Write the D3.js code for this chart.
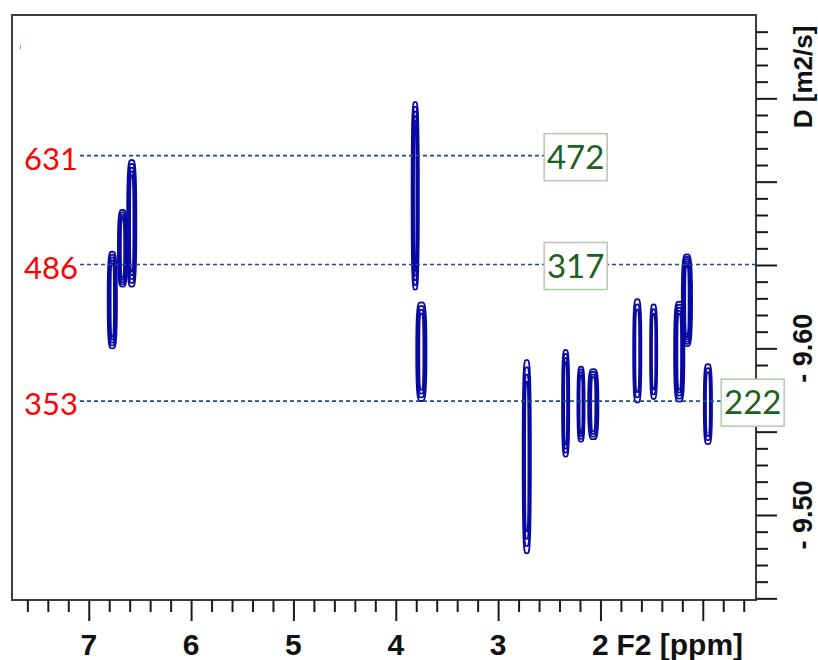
<!DOCTYPE html>
<html>
<head>
<meta charset="utf-8">
<script src="https://cdn.jsdelivr.net/npm/d3@7"></script>
<style>
  body { margin: 0; background: #fff; }
  svg { display: block; }
</style>
</head>
<body>
<svg id="chart" width="818" height="660"></svg>
<script>
// peaks: chemical shift (ppm), log D centre, half span in log D, half width in ppm, contour levels
var peakPpm    = [6.77, 6.67, 6.58, 3.81, 3.75, 2.72, 2.34, 2.19, 2.07, 1.64, 1.48, 1.23, 1.155, 0.95];
var peakLogD   = [-9.629, -9.660, -9.675, -9.6915, -9.598, -9.535, -9.567, -9.5665, -9.5665, -9.5985, -9.598, -9.598, -9.6288, -9.5665];
var peakHalfD  = [0.029, 0.023, 0.038, 0.0563, 0.0296, 0.058, 0.032, 0.0225, 0.021, 0.031, 0.0284, 0.030, 0.0275, 0.024];
var peakHalfW  = [0.045, 0.045, 0.045, 0.035, 0.05, 0.04, 0.035, 0.035, 0.05, 0.04, 0.035, 0.05, 0.05, 0.04];
var peakLevels = [5, 5, 5, 6, 4, 4, 4, 4, 4, 3, 3, 5, 6, 3];

// dashed reference lines (log D) with their annotations
var refLogD   = [-9.7156, -9.6503, -9.5683];
var refLeft   = ["631", "486", "353"];
var refRight  = ["472", "317", "222"];
var refBoxPpm = [2.55, 2.55, 0.82];   // where the green box starts
var refLineEnd = [2.55, 0.48, 0.48];

// axis ticks
var xMajor = [7, 6, 5, 4, 3, 2, 1];
var xLabels = [7, 6, 5, 4, 3, 2];
var yLabels = [-9.60, -9.50];

var svg = d3.select("#chart");
var blue = "#0a0aa0";

var x = d3.scaleLinear().domain([7.75, 0.48]).range([12, 756]);
var y = d3.scaleLinear().domain([-9.80, -9.449]).range([15, 600]);

// frame
svg.append("rect")
  .attr("x", 12).attr("y", 15)
  .attr("width", 744).attr("height", 585)
  .attr("fill", "none")
  .attr("stroke", "#3c3c3c")
  .attr("stroke-width", 2);

// tiny red mark top left
svg.append("line")
  .attr("x1", 20.5).attr("x2", 20.5).attr("y1", 45).attr("y2", 49)
  .attr("stroke", "#f07070").attr("stroke-width", 1);

// bottom axis ticks
var xMinor = d3.range(38, 2, -1).filter(function(k) { return k % 5 !== 0; }).map(function(k) { return k / 5; });

function styleAxis(g) {
  g.select(".domain").remove();
  g.selectAll("line").attr("stroke", "#1a1a1a").attr("stroke-width", 2);
}

svg.append("g")
  .attr("transform", "translate(0,600)")
  .call(d3.axisBottom(x).tickValues(xMinor).tickSize(12).tickFormat(""))
  .call(styleAxis);
svg.append("g")
  .attr("transform", "translate(0,600)")
  .call(d3.axisBottom(x).tickValues(xMajor).tickSize(21).tickFormat(""))
  .call(styleAxis);

svg.selectAll(".xlab")
  .data(xLabels)
  .enter().append("text")
  .attr("class", "xlab")
  .attr("x", function(d) { return x(d); })
  .attr("y", 655)
  .attr("text-anchor", "middle")
  .style("font-family", "'Liberation Sans', Arial, sans-serif")
  .style("font-weight", "bold")
  .style("font-size", "30px")
  .attr("fill", "#111")
  .text(function(d) { return d; });

svg.append("text")
  .attr("x", x(2) + 16)
  .attr("y", 655)
  .style("font-family", "'Liberation Sans', Arial, sans-serif")
  .style("font-weight", "bold")
  .style("font-size", "30px")
  .attr("fill", "#111")
  .text("F2 [ppm]");

// right axis ticks
var yMinor = d3.range(979, 944, -1).filter(function(k) { return k % 5 !== 0; }).map(function(k) { return -k / 100; });
var yMajor = d3.range(975, 944, -5).map(function(k) { return -k / 100; });

svg.append("g")
  .attr("transform", "translate(756,0)")
  .call(d3.axisRight(y).tickValues(yMinor).tickSize(12).tickFormat(""))
  .call(styleAxis);
svg.append("g")
  .attr("transform", "translate(756,0)")
  .call(d3.axisRight(y).tickValues(yMajor).tickSize(21).tickFormat(""))
  .call(styleAxis);

svg.selectAll(".ylab")
  .data(yLabels)
  .enter().append("text")
  .attr("class", "ylab")
  .attr("transform", function(d) { return "translate(812," + y(d) + ") rotate(-90)"; })
  .attr("text-anchor", "middle")
  .style("font-family", "'Liberation Sans', Arial, sans-serif")
  .style("font-weight", "bold")
  .style("font-size", "27px")
  .attr("fill", "#111")
  .text(function(d) { return "- " + d3.format(".2f")(-d); });

svg.append("text")
  .attr("transform", "translate(812,77) rotate(-90)")
  .attr("text-anchor", "middle")
  .style("font-family", "'Liberation Sans', Arial, sans-serif")
  .style("font-weight", "bold")
  .style("font-size", "26px")
  .attr("fill", "#111")
  .text("D [m2/s]");

// peaks as nested contour outlines
var contour = d3.line().curve(d3.curveLinearClosed);
function blob(cx, cy, rx, ry) {
  var pts = [];
  for (var i = 0; i < 60; i++) {
    var t = i / 60 * 2 * Math.PI;
    var c = Math.cos(t), s = Math.sin(t);
    pts.push([cx + rx * Math.sign(c) * Math.pow(Math.abs(c), 0.45),
              cy + ry * Math.sign(s) * Math.pow(Math.abs(s), 0.8)]);
  }
  return contour(pts);
}

var peaks = peakPpm.map(function(p, i) {
  return { ppm: p, logD: peakLogD[i], hd: peakHalfD[i], hw: peakHalfW[i], n: peakLevels[i] };
});

var pg = svg.append("g");
peaks.forEach(function(d) {
  var cx = x(d.ppm), cy = y(d.logD);
  var rx = Math.abs(x(d.ppm + d.hw) - cx);
  var ry = Math.abs(y(d.logD + d.hd) - cy);
  for (var k = 0; k < d.n; k++) {
    var f = k / d.n;
    pg.append("path")
      .attr("d", blob(cx, cy, Math.max(0.5, rx * (1 - 0.8 * f)), ry * (1 - 0.3 * f)))
      .attr("fill", "none")
      .attr("stroke", blue)
      .attr("stroke-width", 1.8);
  }
});

// dashed lines, red and green annotations
var refs = refLogD.map(function(v, i) {
  return { v: v, left: refLeft[i], right: refRight[i], box: refBoxPpm[i], end: refLineEnd[i] };
});

svg.selectAll(".ref")
  .data(refs)
  .enter().append("line")
  .attr("class", "ref")
  .attr("x1", 80)
  .attr("x2", function(d) { return x(d.end); })
  .attr("y1", function(d) { return y(d.v); })
  .attr("y2", function(d) { return y(d.v); })
  .attr("stroke", "#1f4a8c")
  .attr("stroke-width", 1.6)
  .attr("stroke-dasharray", "4,3");

svg.selectAll(".redlab")
  .data(refs)
  .enter().append("text")
  .attr("class", "redlab")
  .attr("x", 78)
  .attr("y", function(d) { return y(d.v) + 14; })
  .attr("text-anchor", "end")
  .style("font-family", "Lato, 'Noto Sans', sans-serif")
  .style("font-size", "31px")
  .attr("fill", "#ff0000")
  .text(function(d) { return d.left; });

var boxes = svg.selectAll(".gbox")
  .data(refs)
  .enter().append("g")
  .attr("class", "gbox")
  .attr("transform", function(d) { return "translate(" + x(d.box) + "," + (y(d.v) - 22) + ")"; });

boxes.append("rect")
  .attr("width", 63).attr("height", 47)
  .attr("fill", "#fff")
  .attr("stroke", "#b5c8b0")
  .attr("stroke-width", 1.5);

boxes.append("text")
  .attr("x", 31.5).attr("y", 35)
  .attr("text-anchor", "middle")
  .style("font-family", "Lato, 'Noto Sans', sans-serif")
  .style("font-size", "33px")
  .attr("fill", "#1e601e")
  .text(function(d) { return d.right; });
</script>
</body>
</html>
